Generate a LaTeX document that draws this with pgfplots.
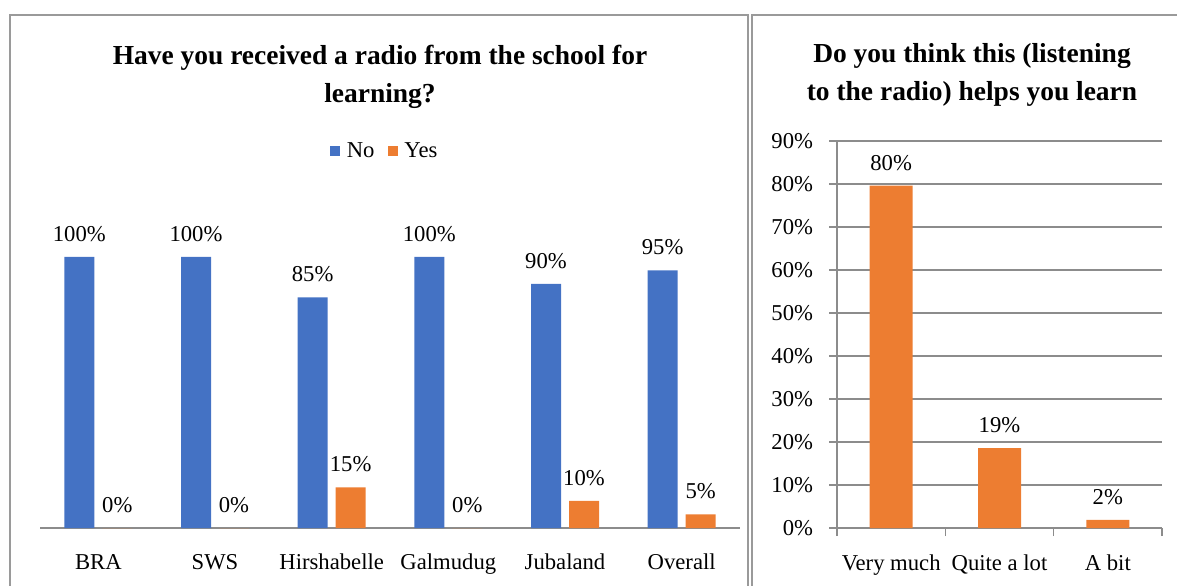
\documentclass[border=0pt]{standalone}
\usepackage{fontspec}
\setmainfont{Liberation Serif}
\usepackage{pgfplots}
\usepackage{pgfplotstable}
\pgfplotsset{compat=1.18}
\definecolor{cblue}{HTML}{4472C4}
\definecolor{corange}{HTML}{ED7D31}
\definecolor{axisgray}{HTML}{8C8C8C}
\definecolor{bordergray}{HTML}{9A9A9A}
\newcommand\lbl{\fontsize{17}{20}\selectfont}
\newcommand\ttl{\fontsize{20.6}{28.5}\selectfont\bfseries}
\pgfplotstableread{
x no yes
0 100 0
1 100 0
2 85 15
3 100 0
4 90 10
5 95 5
}\lefttab
\pgfplotstableread{
x val
0 79.6
1 18.6
2 1.9
}\righttab
\begin{document}
\begin{tikzpicture}
\useasboundingbox (0,0) rectangle (882.75pt,-438.75pt);
\draw[bordergray, line width=1.5pt] (7.5pt,-11.25pt) rectangle (561pt,-460pt);
\draw[bordergray, line width=1.5pt] (564pt,-11.25pt) rectangle (900pt,-460pt);
\node[align=center, font=\ttl] at (285pt,-57.75pt) {Have you received a radio from the school for\\learning?};
\node[align=center, font=\ttl] at (729pt,-56.25pt) {Do you think this (listening\\to the radio) helps you learn};
\begin{axis}[at={(30pt,-396pt)}, anchor=south west, scale only axis,
  width=525pt, height=268.5pt,
  ymin=0, ymax=132, xmin=-0.5, xmax=5.5,
  ybar=6pt, bar width=22.5pt,
  axis y line=none, axis x line*=bottom,
  x axis line style={axisgray, line width=1.5pt},
  xtick=data, xticklabels={BRA,SWS,Hirshabelle,Galmudug,Jubaland,Overall},
  major tick length=0pt,
  xticklabel style={font=\lbl, yshift=-16pt},
  /pgf/number format/assume math mode=true,
  nodes near coords={\pgfmathprintnumber{\pgfplotspointmeta}\%},
  nodes near coords style={font=\lbl, text=black, yshift=8pt},
  legend columns=2,
  legend style={draw=none, fill=none, at={(0.493,1.053)}, anchor=center, font=\lbl,
    /tikz/every even column/.append style={column sep=8pt}},
  legend image code/.code={\fill[#1] (0pt,-3.75pt) rectangle (7.5pt,3.75pt); \path (10.5pt,0pt);},
]
\addplot[fill=cblue, draw=none] table[x=x,y=no]{\lefttab};
\addplot[fill=corange, draw=none] table[x=x,y=yes]{\lefttab};
\legend{No,Yes}
\end{axis}
\begin{axis}[at={(627.75pt,-396pt)}, anchor=south west, scale only axis,
  width=243.75pt, height=290.25pt,
  ymin=0, ymax=90, ytick={0,10,...,90}, xmin=-0.5, xmax=2.5,
  xtick={-0.5,0.5,1.5,2.5}, x tick label as interval,
  xticklabels={Very much,Quite a lot,A bit},
  ybar, bar width=32.25pt,
  axis x line*=bottom, axis y line*=left,
  axis line style={axisgray, line width=1.2pt},
  ymajorgrids, grid style={axisgray, line width=1.2pt},
  tick align=outside, major tick length=6pt,
  tick style={axisgray, line width=1.2pt},
  /pgf/number format/assume math mode=true,
  yticklabel={\pgfmathprintnumber{\tick}\%},
  ticklabel style={font=\lbl},
  xticklabel style={yshift=-10.5pt},
  yticklabel style={xshift=-8.5pt},
  nodes near coords={\pgfmathprintnumber[fixed,precision=0]{\pgfplotspointmeta}\%},
  nodes near coords style={font=\lbl, text=black, yshift=8pt},
]
\addplot[fill=corange, draw=none] table[x=x,y=val]{\righttab};
\end{axis}
\end{tikzpicture}
\end{document}
